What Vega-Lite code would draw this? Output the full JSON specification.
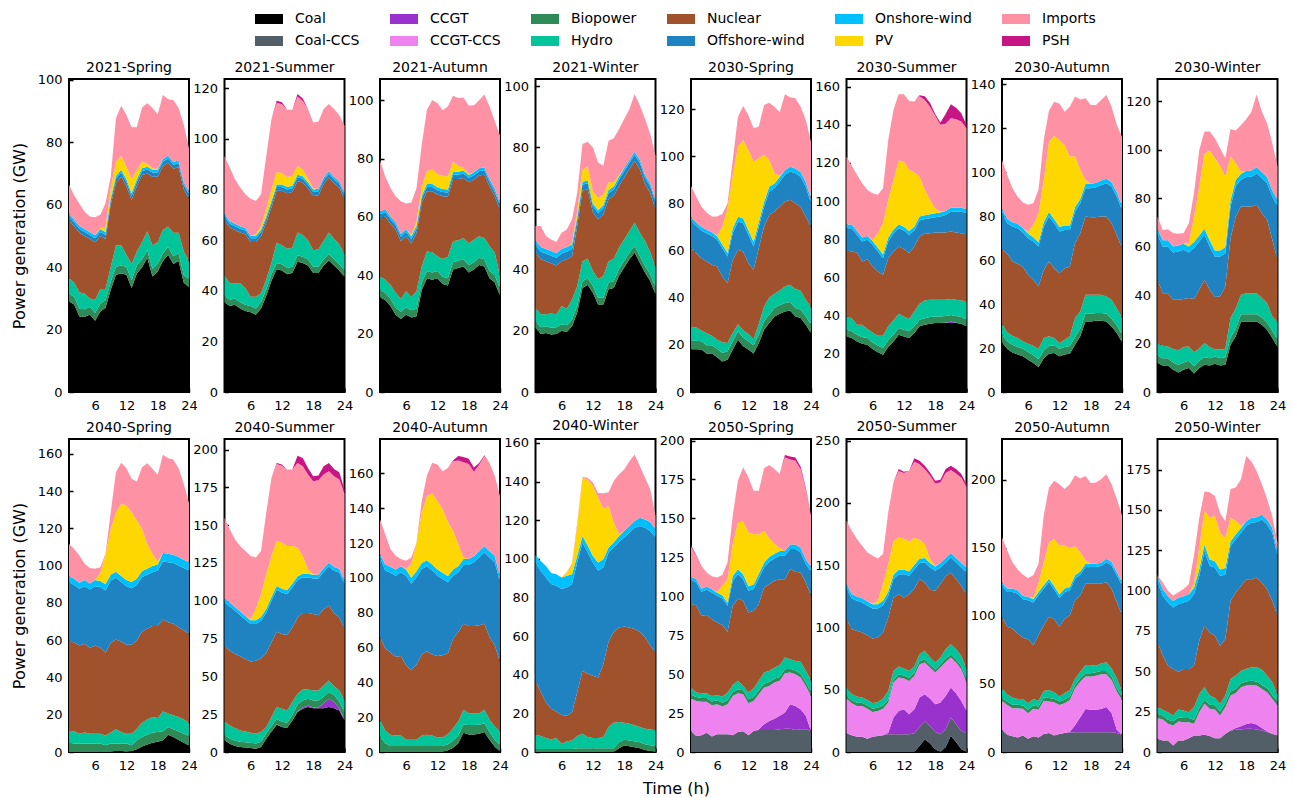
{
  "$schema": "https://vega.github.io/schema/vega-lite/v6.json",
  "padding": {"left": 10, "top": 5, "right": 10, "bottom": 5},
  "background": "white",
  "data": {"values": [
    {"p":"2021-Spring","c":"Coal","h":[1,2,3,4,5,6,7,8,9,10,11,12,13,14,15,16,17,18,19,20,21,22,23,24],"v":[29,28,24.2,24,24.8,22.8,25.8,27,32.8,37.6,38,37.6,33.3,38,40,43,37,38.6,42,44,41,42,35,33.6]},
    {"p":"2021-Spring","c":"Biopower","h":[1,2,3,4,5,6,7,8,9,10,11,12,13,14,15,16,17,18,19,20,21,22,23,24],"v":[2.5,2.5,2.5,2.5,2.5,2.5,2.5,2.5,2.5,2.5,2.5,2.5,2.5,2.5,2.5,2.5,2.5,2.5,2.5,2.5,2.5,2.5,2.5,2.5]},
    {"p":"2021-Spring","c":"Hydro","h":[1,2,3,4,5,6,7,8,9,10,11,12,13,14,15,16,17,18,19,20,21,22,23,24],"v":[5,4.5,5.3,5,2.7,4.2,4.7,3.5,4.7,6.9,6.5,3.9,5.2,4.5,5.5,6,7.5,6.9,7.5,6.5,7.5,6.5,7.5,5.9]},
    {"p":"2021-Spring","c":"Nuclear","h":[1,2,3,4,5,6,7,8,9,10,11,12,13,14,15,16,17,18,19,20,21,22,23,24],"v":[18.5,18,19,18.5,19,18.5,17,16,20,20,22,22,20.5,21,21.5,18.5,22,21,20.5,20.5,20.5,21,20,20]},
    {"p":"2021-Spring","c":"Offshore-wind","h":[1,2,3,4,5,6,7,8,9,10,11,12,13,14,15,16,17,18,19,20,21,22,23,24],"v":[1.3,1.3,1.3,1.3,1.3,1.3,1.3,1.3,1.3,1.3,1.3,1.3,1.3,1.3,1.3,1.3,1.3,1.3,1.3,1.3,1.3,1.3,1.3,1.3]},
    {"p":"2021-Spring","c":"Onshore-wind","h":[1,2,3,4,5,6,7,8,9,10,11,12,13,14,15,16,17,18,19,20,21,22,23,24],"v":[0.9,0.9,0.9,0.9,0.9,0.9,0.9,0.9,0.9,0.9,0.9,0.9,0.9,0.9,0.9,0.9,0.9,0.9,0.9,0.9,0.9,0.9,0.9,0.9]},
    {"p":"2021-Spring","c":"PV","h":[1,2,3,4,5,6,7,8,9,10,11,12,13,14,15,16,17,18,19,20,21,22,23,24],"v":[0,0,0,0,0,0,0.5,1.5,3,4.5,4.5,4,4.5,3,2,1,0.5,0.3,0,0,0,0,0,0]},
    {"p":"2021-Spring","c":"Imports","h":[1,2,3,4,5,6,7,8,9,10,11,12,13,14,15,16,17,18,19,20,21,22,23,24],"v":[9.2,7.8,7.1,5.6,5,5.8,4.1,7.8,3.8,14,16,16.6,16.6,13.6,17.5,19.3,19.3,17.5,20.5,18.1,19.9,16.8,18.4,13.8]},

    {"p":"2021-Summer","c":"Coal","h":[1,2,3,4,5,6,7,8,9,10,11,12,13,14,15,16,17,18,19,20,21,22,23,24],"v":[35.5,34,34.5,33,32,31.5,30.5,33,38,44,48.5,48,46.5,47,51.5,51,50,47,47,50,52,50,48,45.5]},
    {"p":"2021-Summer","c":"Biopower","h":[1,2,3,4,5,6,7,8,9,10,11,12,13,14,15,16,17,18,19,20,21,22,23,24],"v":[2.5,2.5,2.5,2.5,2.5,2.5,2.5,2.5,2.5,2.5,2.5,2.5,2.5,2.5,2.5,2.5,2.5,2.5,2.5,2.5,2.5,2.5,2.5,2.5]},
    {"p":"2021-Summer","c":"Hydro","h":[1,2,3,4,5,6,7,8,9,10,11,12,13,14,15,16,17,18,19,20,21,22,23,24],"v":[8,6.5,6,7.5,6.5,3.6,4.6,3.5,4,4.5,8,7.5,7.6,7.5,9,8.5,7.5,6.5,6.9,7.2,8.5,8.1,7.8,6.4]},
    {"p":"2021-Summer","c":"Nuclear","h":[1,2,3,4,5,6,7,8,9,10,11,12,13,14,15,16,17,18,19,20,21,22,23,24],"v":[22,22,21,20,21.3,21.7,21.7,22.6,22.5,22,20.5,21.5,21.9,22,20.4,20.8,20.4,21.5,21.4,22.5,21.8,21.9,22.5,21.8]},
    {"p":"2021-Summer","c":"Offshore-wind","h":[1,2,3,4,5,6,7,8,9,10,11,12,13,14,15,16,17,18,19,20,21,22,23,24],"v":[1.5,1.5,1.5,1.5,1.5,1.5,1.5,1.5,1.5,1.5,1.5,1.5,1.5,1.5,1.5,1.5,1.5,1.5,1.5,1.5,1.5,1.5,1.5,1.5]},
    {"p":"2021-Summer","c":"Onshore-wind","h":[1,2,3,4,5,6,7,8,9,10,11,12,13,14,15,16,17,18,19,20,21,22,23,24],"v":[1,1,1,1,1,1,1,1,1,1,1,1,1,1,1,1,1,1,1,1,1,1,1,1]},
    {"p":"2021-Summer","c":"PV","h":[1,2,3,4,5,6,7,8,9,10,11,12,13,14,15,16,17,18,19,20,21,22,23,24],"v":[0,0,0,0,0,0,0.5,1.5,3,4.5,5,4.5,4,4,3.5,2.5,1.5,0.5,0,0,0,0,0,0]},
    {"p":"2021-Summer","c":"Imports","h":[1,2,3,4,5,6,7,8,9,10,11,12,13,14,15,16,17,18,19,20,21,22,23,24],"v":[22.8,21.2,17.6,15.3,13.4,14.6,13.2,12.6,20.8,27.8,27.3,27.2,26.5,26,27.4,27.2,27.4,26,26.5,27.1,26.5,26.8,26.1,26.5]},
    {"p":"2021-Summer","c":"PSH","h":[1,2,3,4,5,6,7,8,9,10,11,12,13,14,15,16,17,18,19,20,21,22,23,24],"v":[0,0,0,0,0,0,0,0,0,0,0.8,0.8,0,0,1,1,0,0,0,0,0,0,0,0]},

    {"p":"2021-Autumn","c":"Coal","h":[1,2,3,4,5,6,7,8,9,10,11,12,13,14,15,16,17,18,19,20,21,22,23,24],"v":[32.5,31.5,29.5,26.5,25,26.5,25.5,26,35,39,38.5,39,37,36.5,42,42.5,43,41,42,43.5,43,39,37.5,33]},
    {"p":"2021-Autumn","c":"Biopower","h":[1,2,3,4,5,6,7,8,9,10,11,12,13,14,15,16,17,18,19,20,21,22,23,24],"v":[2.5,2.5,2.5,2.5,2.5,2.5,2.5,2.5,2.5,2.5,2.5,2.5,2.5,2.5,2.5,2.5,2.5,2.5,2.5,2.5,2.5,2.5,2.5,2.5]},
    {"p":"2021-Autumn","c":"Hydro","h":[1,2,3,4,5,6,7,8,9,10,11,12,13,14,15,16,17,18,19,20,21,22,23,24],"v":[4.7,4.5,4.8,5,4.4,5.5,4.6,6,5.5,6.7,6.9,5,6.1,7.3,7.2,7,7.3,7.5,7.7,7.4,7.3,8.5,7.7,4.2]},
    {"p":"2021-Autumn","c":"Nuclear","h":[1,2,3,4,5,6,7,8,9,10,11,12,13,14,15,16,17,18,19,20,21,22,23,24],"v":[19.6,21.7,20.9,21.7,19.8,18.9,18.3,20,21.8,20.6,20.9,21.2,21.5,20.6,21.3,21,20.6,20.9,20.6,20.8,21.7,20.5,19.4,22.8]},
    {"p":"2021-Autumn","c":"Offshore-wind","h":[1,2,3,4,5,6,7,8,9,10,11,12,13,14,15,16,17,18,19,20,21,22,23,24],"v":[1.5,1.5,1.5,1.5,1.5,1.5,1.5,1.5,1.5,1.5,1.5,1.5,1.5,1.5,1.5,1.5,1.5,1.5,1.5,1.5,1.5,1.5,1.5,1.5]},
    {"p":"2021-Autumn","c":"Onshore-wind","h":[1,2,3,4,5,6,7,8,9,10,11,12,13,14,15,16,17,18,19,20,21,22,23,24],"v":[1,1,1,1,1,1,1,1,1,1,1,1,1,1,1,1,1,1,1,1,1,1,1,1]},
    {"p":"2021-Autumn","c":"PV","h":[1,2,3,4,5,6,7,8,9,10,11,12,13,14,15,16,17,18,19,20,21,22,23,24],"v":[0,0,0,0,0,0,0.5,1.5,3,4.5,5,4.5,4.5,4.5,3.5,2,1,0.3,0,0,0,0,0,0]},
    {"p":"2021-Autumn","c":"Imports","h":[1,2,3,4,5,6,7,8,9,10,11,12,13,14,15,16,17,18,19,20,21,22,23,24],"v":[17.6,11.2,9.7,8.9,11.2,8.7,11.1,11.4,14.5,21,23.7,24.4,22.5,24,22.6,23.3,24.1,23.5,23,23.3,25,24.9,23.2,22.9]},

    {"p":"2021-Winter","c":"Coal","h":[1,2,3,4,5,6,7,8,9,10,11,12,13,14,15,16,17,18,19,20,21,22,23,24],"v":[21,19,19.3,18.8,19,20,19.6,21.5,26,34,35,32.5,28.6,28.6,33.6,34,38,40.7,43.4,45.6,42.3,39,36.3,32]},
    {"p":"2021-Winter","c":"Biopower","h":[1,2,3,4,5,6,7,8,9,10,11,12,13,14,15,16,17,18,19,20,21,22,23,24],"v":[2.2,2.2,2.2,2.2,2.2,2.2,2.2,2.2,2.2,2.2,2.2,2.2,2.2,2.2,2.2,2.2,2.2,2.2,2.2,2.2,2.2,2.2,2.2,2.2]},
    {"p":"2021-Winter","c":"Hydro","h":[1,2,3,4,5,6,7,8,9,10,11,12,13,14,15,16,17,18,19,20,21,22,23,24],"v":[4.3,4.2,3.9,4.7,4.2,5.9,5.4,6.6,6.4,6.6,6.4,4.9,6.2,7.1,7,7.4,7,7,7.1,7.6,7.6,8.2,7.1,6.5]},
    {"p":"2021-Winter","c":"Nuclear","h":[1,2,3,4,5,6,7,8,9,10,11,12,13,14,15,16,17,18,19,20,21,22,23,24],"v":[18.1,18,17.4,16.4,16,14.7,16.2,14,19.7,23,22.7,19.1,19.5,20.2,20.3,20.6,20.2,20.3,20.2,20.2,20.8,18.6,19.6,19.1]},
    {"p":"2021-Winter","c":"Offshore-wind","h":[1,2,3,4,5,6,7,8,9,10,11,12,13,14,15,16,17,18,19,20,21,22,23,24],"v":[2.5,2.5,2.5,2.5,2.5,2.5,2.5,2.5,2,2,2,2,2,2,2,2,2,2,2,2,2,2,2,2]},
    {"p":"2021-Winter","c":"Onshore-wind","h":[1,2,3,4,5,6,7,8,9,10,11,12,13,14,15,16,17,18,19,20,21,22,23,24],"v":[1.5,1.5,1.5,1.5,1.5,1.5,1.5,1.5,1,1,1,1,1,1,1,1,1,1,1,1,1,1,1,1]},
    {"p":"2021-Winter","c":"PV","h":[1,2,3,4,5,6,7,8,9,10,11,12,13,14,15,16,17,18,19,20,21,22,23,24],"v":[0,0,0,0,0,0,0,0.5,2,4,4.5,4,4,3.5,2.5,1.5,0.5,0,0,0,0,0,0,0]},
    {"p":"2021-Winter","c":"Imports","h":[1,2,3,4,5,6,7,8,9,10,11,12,13,14,15,16,17,18,19,20,21,22,23,24],"v":[4.7,6.9,4.2,3.8,3.7,5.3,5.8,7.7,5.9,8.3,8.1,14.3,11.6,9.4,13.6,14.3,15.1,16.1,16.7,18.9,17.8,18.3,16.2,14.5]},

    {"p":"2030-Spring","c":"Coal","h":[1,2,3,4,5,6,7,8,9,10,11,12,13,14,15,16,17,18,19,20,21,22,23,24],"v":[18.2,18.2,18,16.3,16.3,14.8,13,13.7,18,22.2,19.4,18,16.3,20.8,26.4,29.3,32.1,33.2,34.2,34.6,32.1,31.4,28.6,25]},
    {"p":"2030-Spring","c":"Biopower","h":[1,2,3,4,5,6,7,8,9,10,11,12,13,14,15,16,17,18,19,20,21,22,23,24],"v":[3.6,3.6,3.6,3.6,3.6,3.6,3.6,3.6,3.6,3.6,3.6,3.6,3.6,3.6,3.6,3.6,3.6,3.6,3.6,3.6,3.6,3.6,3.6,3.6]},
    {"p":"2030-Spring","c":"Hydro","h":[1,2,3,4,5,6,7,8,9,10,11,12,13,14,15,16,17,18,19,20,21,22,23,24],"v":[6,5.6,4.5,5,4,3.8,4.5,3.5,3.5,3,3.2,3,2.5,4.5,6.3,7.2,6,6.3,7,7.3,8,8,7,7.4]},
    {"p":"2030-Spring","c":"Nuclear","h":[1,2,3,4,5,6,7,8,9,10,11,12,13,14,15,16,17,18,19,20,21,22,23,24],"v":[33.3,31.5,30.7,30.5,30.1,31.1,27.9,25.4,31,31.6,33.4,30.1,29.5,32.2,33.9,35.1,34.9,35.6,36,36.1,36.4,35.7,35.3,34.2]},
    {"p":"2030-Spring","c":"Offshore-wind","h":[1,2,3,4,5,6,7,8,9,10,11,12,13,14,15,16,17,18,19,20,21,22,23,24],"v":[11.7,11.6,11.8,12,12.3,11.3,12.1,11.3,11.3,12,12.1,12,9.9,9.1,8.5,9.9,9.9,10.6,11.4,12,12.8,12.7,12.7,9.9]},
    {"p":"2030-Spring","c":"Onshore-wind","h":[1,2,3,4,5,6,7,8,9,10,11,12,13,14,15,16,17,18,19,20,21,22,23,24],"v":[1.5,1.5,1.5,1.5,1.5,1.5,1.5,1.5,2,2,2,2,2,2,2,2,2,2,2,2,2,2,2,2]},
    {"p":"2030-Spring","c":"PV","h":[1,2,3,4,5,6,7,8,9,10,11,12,13,14,15,16,17,18,19,20,21,22,23,24],"v":[0,0,0,0,0,0.4,7.6,19,22.6,29.8,33.3,34,34,27,20,11.4,4.4,0.5,0,0,0,0,0,0]},
    {"p":"2030-Spring","c":"Imports","h":[1,2,3,4,5,6,7,8,9,10,11,12,13,14,15,16,17,18,19,20,21,22,23,24],"v":[13.2,11,8.6,7.3,6.7,8,5.4,2,6.5,12.7,14.4,14.8,14.2,13.5,21.2,24.3,28.2,27,32.2,29.5,29.8,27.7,26.3,24.2]},

    {"p":"2030-Summer","c":"Coal","h":[1,2,3,4,5,6,7,8,9,10,11,12,13,14,15,16,17,18,19,20,21,22,23,24],"v":[29.1,28.3,26.5,25.3,24.8,22.5,20.8,19.5,23.6,26.5,30,29.1,28.3,30.9,34.4,35.2,35.8,36.1,36.1,36.1,36.1,36.1,35.8,34.4]},
    {"p":"2030-Summer","c":"CCGT","h":[1,2,3,4,5,6,7,8,9,10,11,12,13,14,15,16,17,18,19,20,21,22,23,24],"v":[0,0,0,0,0,0,0,0,0,0,0,0,0,0,0,0,0,0,0,0.2,0.7,0.2,0,0]},
    {"p":"2030-Summer","c":"Biopower","h":[1,2,3,4,5,6,7,8,9,10,11,12,13,14,15,16,17,18,19,20,21,22,23,24],"v":[3.5,3.5,3.5,3.5,3.5,3.5,3.5,3.5,3.5,3.5,3.5,3.5,3.5,3.5,3.5,3.5,3.5,3.5,3.5,3.5,3.5,3.5,3.5,3.5]},
    {"p":"2030-Summer","c":"Hydro","h":[1,2,3,4,5,6,7,8,9,10,11,12,13,14,15,16,17,18,19,20,21,22,23,24],"v":[7,6.9,5.2,6.4,4.7,5.2,5.2,6.5,7.3,7.5,7.5,7,6.4,7.8,8.3,9.3,9,8.7,8.7,8.5,8.4,8.5,8.7,9.6]},
    {"p":"2030-Summer","c":"Nuclear","h":[1,2,3,4,5,6,7,8,9,10,11,12,13,14,15,16,17,18,19,20,21,22,23,24],"v":[34.6,34.9,37.9,33.2,36.6,34.6,33.7,31.9,35.7,36.1,35.3,35.3,34.6,34.1,35.3,34.9,34.9,35.3,35.3,35.3,35.4,35.3,35.2,34.9]},
    {"p":"2030-Summer","c":"Offshore-wind","h":[1,2,3,4,5,6,7,8,9,10,11,12,13,14,15,16,17,18,19,20,21,22,23,24],"v":[11.6,12.2,9.3,10.5,10.2,11.3,10.4,8.7,8.8,9.6,9.5,9.7,9.6,8.3,8.4,7.7,7.9,8,8.4,9.2,10.5,11,11.4,11.3]},
    {"p":"2030-Summer","c":"Onshore-wind","h":[1,2,3,4,5,6,7,8,9,10,11,12,13,14,15,16,17,18,19,20,21,22,23,24],"v":[2,2,2,2,2,2,2,2,2,2,2,2,2,2,2,2,2,2,2,2,2,2,2,2]},
    {"p":"2030-Summer","c":"PV","h":[1,2,3,4,5,6,7,8,9,10,11,12,13,14,15,16,17,18,19,20,21,22,23,24],"v":[0,0,0,0,0,0.5,7.6,16.4,19.8,25.9,33.5,34.2,32,28.4,21,13.3,7.6,2.7,0.3,0,0,0,0,0]},
    {"p":"2030-Summer","c":"Imports","h":[1,2,3,4,5,6,7,8,9,10,11,12,13,14,15,16,17,18,19,20,21,22,23,24],"v":[35.6,30.7,29.4,28.5,24.1,24.6,20.1,18.3,31.4,36.7,34.7,35.2,36.1,37.2,42.1,47.1,48.8,48.4,45.7,45.7,46.8,46.3,45.1,42.5]},
    {"p":"2030-Summer","c":"PSH","h":[1,2,3,4,5,6,7,8,9,10,11,12,13,14,15,16,17,18,19,20,21,22,23,24],"v":[0,0,0,0,0,0,0,0,0,0,0,0,0,0,0.5,2,2,1,1.2,5.2,7.4,6,4.3,1.7]},

    {"p":"2030-Autumn","c":"Coal","h":[1,2,3,4,5,6,7,8,9,10,11,12,13,14,15,16,17,18,19,20,21,22,23,24],"v":[22.6,19.5,18,17,16.2,14.7,13.2,11.4,15.4,17.4,17.7,16.2,17,17.4,21.5,25.3,32.1,32.1,32.4,32.4,32.1,29.8,26.8,22.6]},
    {"p":"2030-Autumn","c":"Biopower","h":[1,2,3,4,5,6,7,8,9,10,11,12,13,14,15,16,17,18,19,20,21,22,23,24],"v":[3.5,3.5,3.5,3.5,3.5,3.5,3.5,3.5,3.5,3.5,3.5,3.5,3.5,3.5,3.5,3.5,3.5,3.5,3.5,3.5,3.5,3.5,3.5,3.5]},
    {"p":"2030-Autumn","c":"Hydro","h":[1,2,3,4,5,6,7,8,9,10,11,12,13,14,15,16,17,18,19,20,21,22,23,24],"v":[4.9,4,4.1,4,3.3,3.7,4.3,4.6,5.6,4.4,3.3,2.5,3.3,4.4,8.6,7.8,8.6,8.6,8.3,8.3,7.8,8.6,7.8,7.5]},
    {"p":"2030-Autumn","c":"Nuclear","h":[1,2,3,4,5,6,7,8,9,10,11,12,13,14,15,16,17,18,19,20,21,22,23,24],"v":[33.9,35.8,33.7,33.8,33.8,31.4,30,28.5,31,34,31.8,31.8,32.5,31.8,34.1,35.6,35.6,35.3,35.3,35.6,36.4,34.8,33.3,31.8]},
    {"p":"2030-Autumn","c":"Offshore-wind","h":[1,2,3,4,5,6,7,8,9,10,11,12,13,14,15,16,17,18,19,20,21,22,23,24],"v":[16.4,13.9,15.9,16.2,15.7,16.6,17.4,18.1,19.7,20.5,20.4,19,17.4,16.6,14.3,13.6,12.8,13.1,13.6,14.3,15.1,16.7,17.4,17.4]},
    {"p":"2030-Autumn","c":"Onshore-wind","h":[1,2,3,4,5,6,7,8,9,10,11,12,13,14,15,16,17,18,19,20,21,22,23,24],"v":[2,2,2,2,2,2,2,2,2,2,2,2,2,2,2,2,2,2,2,2,2,2,2,2]},
    {"p":"2030-Autumn","c":"PV","h":[1,2,3,4,5,6,7,8,9,10,11,12,13,14,15,16,17,18,19,20,21,22,23,24],"v":[0,0,0,0,0,1.1,5.6,13.2,19.2,32,37.7,39.6,36.6,31.3,23.3,13.2,1.8,0,0,0,0,0,0,0]},
    {"p":"2030-Autumn","c":"Imports","h":[1,2,3,4,5,6,7,8,9,10,11,12,13,14,15,16,17,18,19,20,21,22,23,24],"v":[22.2,20,15.4,12.3,11.6,12.1,9.8,10.6,18.2,14.1,15.6,16.6,15.1,22.7,27,32,37.1,35.9,35.4,36.6,38.1,34.3,30.6,31.3]},

    {"p":"2030-Winter","c":"Coal","h":[1,2,3,4,5,6,7,8,9,10,11,12,13,14,15,16,17,18,19,20,21,22,23,24],"v":[12,10.9,10.9,9.2,8.1,9.2,9.9,7.6,9.9,11.3,10.9,11.7,10.9,11.3,19.5,23,29.1,29.1,29.1,29.1,27.8,25.7,22.3,18.6]},
    {"p":"2030-Winter","c":"Biopower","h":[1,2,3,4,5,6,7,8,9,10,11,12,13,14,15,16,17,18,19,20,21,22,23,24],"v":[3,3,3,3,3,3,3,3,3,3,3,3,3,3,3,3,3,3,3,3,3,3,3,3]},
    {"p":"2030-Winter","c":"Hydro","h":[1,2,3,4,5,6,7,8,9,10,11,12,13,14,15,16,17,18,19,20,21,22,23,24],"v":[5.2,5.2,4.9,5.5,6.1,6.4,5.9,5.8,5.2,5.9,4.7,2.8,3.6,3.4,8,8.6,8,8.7,8.7,8.7,8,8,5.9,7.5]},
    {"p":"2030-Winter","c":"Nuclear","h":[1,2,3,4,5,6,7,8,9,10,11,12,13,14,15,16,17,18,19,20,21,22,23,24],"v":[26.1,21.7,22,20.4,20.9,19.8,20,22,24.1,26.1,23.6,21.7,22,25.9,33,37.8,36.5,35.8,35.8,36.5,35,34.4,31.6,25.5]},
    {"p":"2030-Winter","c":"Offshore-wind","h":[1,2,3,4,5,6,7,8,9,10,11,12,13,14,15,16,17,18,19,20,21,22,23,24],"v":[18.6,19.3,19.3,19.5,19.9,20.3,18.8,21,19.9,18.6,17.9,16.7,16.4,13.7,13.1,12.7,11,12.1,12.3,13,14.4,15.1,17.9,22]},
    {"p":"2030-Winter","c":"Onshore-wind","h":[1,2,3,4,5,6,7,8,9,10,11,12,13,14,15,16,17,18,19,20,21,22,23,24],"v":[2.5,2.5,2.5,2.5,2.5,2.5,2.5,2.5,2.5,2.5,2.5,2.5,2.5,2.5,2.5,2.5,2.5,2.5,2.5,2.5,2.5,2.5,2.5,2.5]},
    {"p":"2030-Winter","c":"PV","h":[1,2,3,4,5,6,7,8,9,10,11,12,13,14,15,16,17,18,19,20,21,22,23,24],"v":[0,0,0,0,0,0,1.3,10.5,20.2,30.9,37.1,38.1,34.9,29.1,18.1,6.8,0.9,0,0,0,0,0,0,0]},
    {"p":"2030-Winter","c":"Imports","h":[1,2,3,4,5,6,7,8,9,10,11,12,13,14,15,16,17,18,19,20,21,22,23,24],"v":[5,4.3,4.6,5.5,4.8,4.4,8.3,9.7,15.1,9.2,7.8,8.2,7.3,7.6,11.4,13.5,19.2,21.4,24.3,30,25,22.2,19.5,14]},

    {"p":"2040-Spring","c":"Coal","h":[1,2,3,4,5,6,7,8,9,10,11,12,13,14,15,16,17,18,19,20,21,22,23,24],"v":[0,0,0,0,0,0,0,0,0,0.5,0.5,0,0.5,1.5,3,4,5,5.5,6.3,9.3,8,6.5,5,3.5]},
    {"p":"2040-Spring","c":"Biopower","h":[1,2,3,4,5,6,7,8,9,10,11,12,13,14,15,16,17,18,19,20,21,22,23,24],"v":[5,4.5,4.5,4.5,4.5,4.5,4.5,3.6,4.5,4,4,4.5,3.1,4.8,5,5.3,5.4,5.2,4.8,4.1,4.2,4.6,4.8,5.1]},
    {"p":"2040-Spring","c":"Hydro","h":[1,2,3,4,5,6,7,8,9,10,11,12,13,14,15,16,17,18,19,20,21,22,23,24],"v":[6.3,6.6,5.3,5.9,5.3,5.3,5.3,5.3,5.9,7.7,6.2,5.3,6.2,6.2,7.7,8.2,8.4,7.5,10.7,7.2,7.5,7.7,7.7,7.1]},
    {"p":"2040-Spring","c":"Nuclear","h":[1,2,3,4,5,6,7,8,9,10,11,12,13,14,15,16,17,18,19,20,21,22,23,24],"v":[48.6,47.5,47.4,47.7,46.2,47.4,46.2,44.4,48.2,48.2,48.6,47.8,47.8,47.4,49,48.6,48.8,49.4,49.3,49.1,49.1,48.2,47.8,47.8]},
    {"p":"2040-Spring","c":"Offshore-wind","h":[1,2,3,4,5,6,7,8,9,10,11,12,13,14,15,16,17,18,19,20,21,22,23,24],"v":[31.3,31.1,30.4,30.9,31.2,31.8,32.5,33.4,33.4,33.1,31.9,31.4,30.3,29.8,29.2,29,28.9,29.8,31.2,32.2,32.6,33.1,33.4,33.9]},
    {"p":"2040-Spring","c":"Onshore-wind","h":[1,2,3,4,5,6,7,8,9,10,11,12,13,14,15,16,17,18,19,20,21,22,23,24],"v":[3.3,3.3,3.3,3.3,3.3,3.3,3.3,3.3,3.3,3.3,3.3,3.3,3.3,3.3,3.3,3.3,3.3,3.3,4.5,4.5,4.5,4.5,4.5,4.5]},
    {"p":"2040-Spring","c":"PV","h":[1,2,3,4,5,6,7,8,9,10,11,12,13,14,15,16,17,18,19,20,21,22,23,24],"v":[0,0,0,0,0,0.2,4.2,15.9,24.5,31.9,38.7,40,37.5,31.2,22.6,13.3,6.6,1.6,0,0,0,0,0,0]},
    {"p":"2040-Spring","c":"Imports","h":[1,2,3,4,5,6,7,8,9,10,11,12,13,14,15,16,17,18,19,20,21,22,23,24],"v":[17.2,16,14.6,8.7,8.2,5.8,3.2,0.5,8.9,21.5,22,20,17.9,21,33.1,43.3,45.6,46.4,52.7,51.3,51.1,47.7,40.7,31.8]},

    {"p":"2040-Summer","c":"Coal","h":[1,2,3,4,5,6,7,8,9,10,11,12,13,14,15,16,17,18,19,20,21,22,23,24],"v":[7.7,5.5,4,3.3,2.9,2.6,2.2,3.3,8.8,13.6,18,16.5,15.8,20.9,26.4,28.6,29.7,29,29,29,29.7,29,27.5,20.9]},
    {"p":"2040-Summer","c":"CCGT","h":[1,2,3,4,5,6,7,8,9,10,11,12,13,14,15,16,17,18,19,20,21,22,23,24],"v":[0,0,0,0,0,0,0,0,0,0,0.3,0,0,0,0.5,1,1,0.5,0.5,3,5.5,4,1.5,0.5]},
    {"p":"2040-Summer","c":"Biopower","h":[1,2,3,4,5,6,7,8,9,10,11,12,13,14,15,16,17,18,19,20,21,22,23,24],"v":[3.5,3.5,3.5,3.5,3.5,3.5,3.5,3.5,3.5,3.5,3.5,3.5,3.5,3.5,4.5,4.5,4.5,4.5,4.5,4.5,4.5,4.5,4.5,4.5]},
    {"p":"2040-Summer","c":"Hydro","h":[1,2,3,4,5,6,7,8,9,10,11,12,13,14,15,16,17,18,19,20,21,22,23,24],"v":[9,8.6,8.3,7.5,7.2,6.6,6.4,6.4,4.2,6,7.9,8.6,8.2,8.6,7.1,7.2,6.1,6.7,6.7,7.5,7.6,6,7.2,8.2]},
    {"p":"2040-Summer","c":"Nuclear","h":[1,2,3,4,5,6,7,8,9,10,11,12,13,14,15,16,17,18,19,20,21,22,23,24],"v":[49.7,49.4,49,49,47.9,47.1,48.3,48.8,49,49.4,49.9,49.4,49.9,49.4,50.5,50.6,50.6,50.5,49.8,50.5,49.4,48.4,48.3,47.2]},
    {"p":"2040-Summer","c":"Offshore-wind","h":[1,2,3,4,5,6,7,8,9,10,11,12,13,14,15,16,17,18,19,20,21,22,23,24],"v":[29,29.3,28.6,27.2,26,24.8,24.2,24.8,26.8,27.5,27.7,27.5,27,26.4,24.8,23.5,23.5,23.5,24.2,24.6,25.9,27.9,29.7,29.7]},
    {"p":"2040-Summer","c":"Onshore-wind","h":[1,2,3,4,5,6,7,8,9,10,11,12,13,14,15,16,17,18,19,20,21,22,23,24],"v":[2.5,2.5,2.5,2.5,2.5,2.5,2.5,2.5,2.5,2.5,2.5,2.5,2.5,2.5,2.5,2.5,2.5,2.5,2.5,2.5,2.5,2.5,2.5,2.5]},
    {"p":"2040-Summer","c":"PV","h":[1,2,3,4,5,6,7,8,9,10,11,12,13,14,15,16,17,18,19,20,21,22,23,24],"v":[0,0,0,0,0,0.8,7.4,15.1,22.8,27.2,29.8,30.5,29.4,25,18.9,11.8,3,0.3,0,0,0,0,0,0]},
    {"p":"2040-Summer","c":"Imports","h":[1,2,3,4,5,6,7,8,9,10,11,12,13,14,15,16,17,18,19,20,21,22,23,24],"v":[53.5,48.5,44.8,43.3,43,41.8,34.1,28.6,40.6,51.6,50.8,50.8,50.5,50.5,56,59.3,62.6,61.6,62.6,61.9,60.6,60.1,59,57.5]},
    {"p":"2040-Summer","c":"PSH","h":[1,2,3,4,5,6,7,8,9,10,11,12,13,14,15,16,17,18,19,20,21,22,23,24],"v":[0,0,0,0,0,0,0,0,0,0,0.8,0.8,0,0,4.8,5.5,4.4,3.3,3.1,5.5,5.5,4.8,4.8,2.6]},

    {"p":"2040-Autumn","c":"Coal","h":[1,2,3,4,5,6,7,8,9,10,11,12,13,14,15,16,17,18,19,20,21,22,23,24],"v":[0,0,0,0,0,0,0,0,0,0,0,0,0,1,2.5,5,11,10,10,10.5,11.5,7,3,0.5]},
    {"p":"2040-Autumn","c":"Biopower","h":[1,2,3,4,5,6,7,8,9,10,11,12,13,14,15,16,17,18,19,20,21,22,23,24],"v":[9,5,3.5,3.5,3.5,3.5,3.5,3.5,3.5,3.5,3.5,3.5,3.5,3.5,4,4.5,4.8,5.5,5.5,5.2,5,4.5,4,3.2]},
    {"p":"2040-Autumn","c":"Hydro","h":[1,2,3,4,5,6,7,8,9,10,11,12,13,14,15,16,17,18,19,20,21,22,23,24],"v":[9.5,7.2,6.4,6,6,3.5,3.5,3.5,6,6.4,6,4.9,4.9,5.8,7.2,8,8.4,6.8,6.8,6.6,7.7,7,7.7,8.1]},
    {"p":"2040-Autumn","c":"Nuclear","h":[1,2,3,4,5,6,7,8,9,10,11,12,13,14,15,16,17,18,19,20,21,22,23,24],"v":[47.6,47.2,47.2,45.2,45.7,42.9,40,43.3,46.5,48,46.5,46.8,47.2,46.3,51.4,51.5,49.5,50.1,50.1,50.5,49.5,47.6,46.6,40]},
    {"p":"2040-Autumn","c":"Offshore-wind","h":[1,2,3,4,5,6,7,8,9,10,11,12,13,14,15,16,17,18,19,20,21,22,23,24],"v":[45.7,44.8,45.8,46.6,48,51.4,49.6,50.1,49.1,48.8,48.2,46.1,43.8,40.9,36.2,34.2,33.7,35,36.6,39,41,45.7,47.7,45.7]},
    {"p":"2040-Autumn","c":"Onshore-wind","h":[1,2,3,4,5,6,7,8,9,10,11,12,13,14,15,16,17,18,19,20,21,22,23,24],"v":[2,3.5,3.5,3.5,3.5,3.5,3.5,3.5,3.5,3.5,3.5,3.5,3.5,3.5,3.5,3.5,3.5,3.5,3.5,3.5,3.5,3.5,3.5,3.5]},
    {"p":"2040-Autumn","c":"PV","h":[1,2,3,4,5,6,7,8,9,10,11,12,13,14,15,16,17,18,19,20,21,22,23,24],"v":[0,0,0,0,0,0.3,7.9,16.1,28.9,36.8,40.9,39.4,36.5,31.2,22.2,12.7,0.9,0,0,0,0,0,0,0]},
    {"p":"2040-Autumn","c":"Imports","h":[1,2,3,4,5,6,7,8,9,10,11,12,13,14,15,16,17,18,19,20,21,22,23,24],"v":[19.9,17.4,10.2,8,4.2,4.8,3.8,0.4,6.7,11.9,17.5,20.9,21.9,31,40,48.1,54.7,54.6,48.5,49.7,51.8,50.7,46,46]},
    {"p":"2040-Autumn","c":"PSH","h":[1,2,3,4,5,6,7,8,9,10,11,12,13,14,15,16,17,18,19,20,21,22,23,24],"v":[0,0,0,0,0,0,0,0,0,0,0,0,0,0,0.5,2.5,3,3,2.5,1,0.5,0,0,0]},

    {"p":"2040-Winter","c":"Coal","h":[1,2,3,4,5,6,7,8,9,10,11,12,13,14,15,16,17,18,19,20,21,22,23,24],"v":[0,0,0,0,0,0,0,0,0,0,0,0,0,0,0,0,2,3.4,3,2.5,2,1,0.5,0]},
    {"p":"2040-Winter","c":"Biopower","h":[1,2,3,4,5,6,7,8,9,10,11,12,13,14,15,16,17,18,19,20,21,22,23,24],"v":[1.5,1.5,1.5,1.5,1.5,1.5,1.5,1.5,2,2,2,2,2,2,2,2,3,3,3,3,3,3,3,3]},
    {"p":"2040-Winter","c":"Hydro","h":[1,2,3,4,5,6,7,8,9,10,11,12,13,14,15,16,17,18,19,20,21,22,23,24],"v":[7.4,6.8,5.7,5,5.7,2.8,4,4.5,6.3,7.5,5.7,5.2,5.2,5.7,10.9,13.1,10.5,8.7,8.6,8.3,7.9,8,8.2,8.2]},
    {"p":"2040-Winter","c":"Nuclear","h":[1,2,3,4,5,6,7,8,9,10,11,12,13,14,15,16,17,18,19,20,21,22,23,24],"v":[28.1,22.7,18.6,15.9,13.8,14.9,13.3,14.5,22.7,32.5,32.8,32.3,31.3,37.9,44.1,46.9,49,49.9,49.9,49.9,49.4,47.4,43.3,40.4]},
    {"p":"2040-Winter","c":"Offshore-wind","h":[1,2,3,4,5,6,7,8,9,10,11,12,13,14,15,16,17,18,19,20,21,22,23,24],"v":[61.1,62.8,64.5,64.5,65,65.1,66.4,66.4,67.1,66.4,62.7,58.6,55.3,49.9,46.2,43.8,44.2,46,49,52.4,54.7,56.7,59.4,59.4]},
    {"p":"2040-Winter","c":"Onshore-wind","h":[1,2,3,4,5,6,7,8,9,10,11,12,13,14,15,16,17,18,19,20,21,22,23,24],"v":[3.7,5.1,6,5.7,6,6,6,5.1,3.3,3.4,3.5,3.3,4.3,4.3,2.6,2.6,3.1,3.4,3.5,3.5,4.3,4.3,4.6,4.3]},
    {"p":"2040-Winter","c":"PV","h":[1,2,3,4,5,6,7,8,9,10,11,12,13,14,15,16,17,18,19,20,21,22,23,24],"v":[0,0,0,0,0,0.2,1.7,5.2,15.6,30.1,34.4,36.2,33.5,26.1,21.5,10.3,0.9,0,0,0,0,0,0,0]},
    {"p":"2040-Winter","c":"Imports","h":[1,2,3,4,5,6,7,8,9,10,11,12,13,14,15,16,17,18,19,20,21,22,23,24],"v":[0,0,0,0,0,0,0.3,0.5,1.7,0.4,0.8,1.8,2.5,8,7.2,21.5,31,31.8,33.5,34.4,26.7,21.5,16.9,6.9]},

    {"p":"2050-Spring","c":"Coal-CCS","h":[1,2,3,4,5,6,7,8,9,10,11,12,13,14,15,16,17,18,19,20,21,22,23,24],"v":[13.5,10.3,10.7,12.4,9.9,11.4,11.4,11.4,10.7,12.9,13.3,10.7,13.5,14.1,14.1,14.1,14.1,14.6,15,15,14.1,14.6,14.6,13.5]},
    {"p":"2050-Spring","c":"CCGT","h":[1,2,3,4,5,6,7,8,9,10,11,12,13,14,15,16,17,18,19,20,21,22,23,24],"v":[0,0,0,0,0,0,0,0,0,0,0,0,0,0.5,3.7,5.8,7.3,8.6,10.3,15.7,15.5,12.8,8.6,0]},
    {"p":"2050-Spring","c":"CCGT-CCS","h":[1,2,3,4,5,6,7,8,9,10,11,12,13,14,15,16,17,18,19,20,21,22,23,24],"v":[20.8,22.5,21.5,19.8,20.1,19.3,17.8,19.3,25.3,24.8,23.8,20.6,19.3,22.5,23.6,22.5,23.2,22.5,25.3,20.3,20.3,20.4,19.2,22.5]},
    {"p":"2050-Spring","c":"Biopower","h":[1,2,3,4,5,6,7,8,9,10,11,12,13,14,15,16,17,18,19,20,21,22,23,24],"v":[2.5,2.5,2.5,2.5,2.5,2.5,2.5,2.5,2.5,2.5,2.5,2.5,2.5,2.5,2.5,2.5,2.5,2.5,2.5,2.5,2.5,2.5,2.5,2.5]},
    {"p":"2050-Spring","c":"Hydro","h":[1,2,3,4,5,6,7,8,9,10,11,12,13,14,15,16,17,18,19,20,21,22,23,24],"v":[4.6,2.9,3,3,3.5,3.2,3.9,4.8,4.5,5.5,2.8,4.4,5.4,6.1,7.1,7.2,7.1,7.5,7.6,6.1,6.1,7.6,7.2,7.2]},
    {"p":"2050-Spring","c":"Nuclear","h":[1,2,3,4,5,6,7,8,9,10,11,12,13,14,15,16,17,18,19,20,21,22,23,24],"v":[53.6,56.1,49.8,50.2,49.3,46.8,45.9,39.2,50.9,52.9,54.7,51.4,50,49.3,54.7,55.7,55.8,55.3,50.3,57.9,57.3,57.4,56.8,54.6]},
    {"p":"2050-Spring","c":"Offshore-wind","h":[1,2,3,4,5,6,7,8,9,10,11,12,13,14,15,16,17,18,19,20,21,22,23,24],"v":[15.6,14.6,15.4,16.3,17.2,17.1,17.1,16.7,16.1,15.7,13.9,13.9,13.9,16.5,12.8,14.4,14.3,15,15,12.8,14.5,12.9,11.8,15.5]},
    {"p":"2050-Spring","c":"Onshore-wind","h":[1,2,3,4,5,6,7,8,9,10,11,12,13,14,15,16,17,18,19,20,21,22,23,24],"v":[2,2,2,2,2,2,2,2,3,3,3,3,3,3,3,3,3,3,3,3,3,3,3,3]},
    {"p":"2050-Spring","c":"PV","h":[1,2,3,4,5,6,7,8,9,10,11,12,13,14,15,16,17,18,19,20,21,22,23,24],"v":[0,0,0,0,0,0.5,6.2,15.1,20.5,30.2,33.9,34.6,32.4,25.1,20.6,12,6.2,1.8,0,0,0,0,0,0]},
    {"p":"2050-Spring","c":"Imports","h":[1,2,3,4,5,6,7,8,9,10,11,12,13,14,15,16,17,18,19,20,21,22,23,24],"v":[19.4,15.1,14.7,9.1,8.3,9.3,6.8,10.8,18.3,26.8,35,35.3,27.8,28.2,40.1,47.1,48.3,47.8,60.3,54.5,53.8,50.6,45.2,33]},
    {"p":"2050-Spring","c":"PSH","h":[1,2,3,4,5,6,7,8,9,10,11,12,13,14,15,16,17,18,19,20,21,22,23,24],"v":[1,0.5,0,0,0,0,0,0,0,0,0,0,0,0,0,0,0,0,1.5,2,2,1.5,1,0.5]},

    {"p":"2050-Summer","c":"Coal","h":[1,2,3,4,5,6,7,8,9,10,11,12,13,14,15,16,17,18,19,20,21,22,23,24],"v":[0,0,0,0,0,0,0,0,0,0,0,0,0,0,5,10,7,2,0,4,13,8,2.5,0]},
    {"p":"2050-Summer","c":"Coal-CCS","h":[1,2,3,4,5,6,7,8,9,10,11,12,13,14,15,16,17,18,19,20,21,22,23,24],"v":[15,13.4,12.3,12.3,10.7,12.3,12.9,13.4,14.2,14.2,14.2,14.2,14.2,15,15,14.5,14,14,14.2,14.2,14.6,14.2,14.4,15]},
    {"p":"2050-Summer","c":"CCGT","h":[1,2,3,4,5,6,7,8,9,10,11,12,13,14,15,16,17,18,19,20,21,22,23,24],"v":[0,0,0,0,0,0,0,0,1.3,13.4,18.8,20.1,16.1,19.3,23.7,21.9,21.9,22.3,25.5,26.8,24.1,25,24.1,18]},
    {"p":"2050-Summer","c":"CCGT-CCS","h":[1,2,3,4,5,6,7,8,9,10,11,12,13,14,15,16,17,18,19,20,21,22,23,24],"v":[27.9,25.7,24.7,24.7,24.1,19.9,20.1,21.4,24.2,28.1,26.8,24.7,26.8,26.8,26.8,25.4,24.9,25.5,28.1,27.3,24.1,24.6,25.5,22.7]},
    {"p":"2050-Summer","c":"Biopower","h":[1,2,3,4,5,6,7,8,9,10,11,12,13,14,15,16,17,18,19,20,21,22,23,24],"v":[2.5,2.5,2.5,2.5,2.5,2.5,2.5,2.5,2.5,2.5,2.5,2.5,2.5,2.5,2.5,2.5,2.5,2.5,2.5,2.5,2.5,2.5,2.5,2.5]},
    {"p":"2050-Summer","c":"Hydro","h":[1,2,3,4,5,6,7,8,9,10,11,12,13,14,15,16,17,18,19,20,21,22,23,24],"v":[6.3,4.8,5,4.2,4.5,4.4,4.7,5.6,6.8,6.9,6.3,5.5,5.5,5,5.5,6.9,5.5,5.5,5.5,7.7,8.2,8.2,8.2,8.3]},
    {"p":"2050-Summer","c":"Nuclear","h":[1,2,3,4,5,6,7,8,9,10,11,12,13,14,15,16,17,18,19,20,21,22,23,24],"v":[54.9,52.2,52.8,52.2,52,52,51.7,53,59,59,58.1,57.1,61.6,62.4,60.3,54.9,54.4,57.6,59,58.4,57.7,56.3,56.2,60.2]},
    {"p":"2050-Summer","c":"Offshore-wind","h":[1,2,3,4,5,6,7,8,9,10,11,12,13,14,15,16,17,18,19,20,21,22,23,24],"v":[24.7,24.7,24.1,24.1,23.6,24.1,23.3,22,17.4,14.7,16.1,18.7,14.8,15.8,12.9,16.1,18,16.1,13.4,11.3,12,13.4,14.8,17.5]},
    {"p":"2050-Summer","c":"Onshore-wind","h":[1,2,3,4,5,6,7,8,9,10,11,12,13,14,15,16,17,18,19,20,21,22,23,24],"v":[3.5,3.5,3.5,3.5,3.5,3.5,3.5,3.5,3.5,3.5,3.5,3.5,3.5,3.5,3.5,3.5,3.5,3.5,3.5,3.5,3.5,3.5,3.5,3.5]},
    {"p":"2050-Summer","c":"PV","h":[1,2,3,4,5,6,7,8,9,10,11,12,13,14,15,16,17,18,19,20,21,22,23,24],"v":[0,0,0,0,0,0.5,2.7,13.4,22,27.3,26,25.2,23.8,22,15.2,11.2,3.2,0.3,0,0,0,0,0,0]},
    {"p":"2050-Summer","c":"Imports","h":[1,2,3,4,5,6,7,8,9,10,11,12,13,14,15,16,17,18,19,20,21,22,23,24],"v":[50.9,50.9,46.1,42.1,39.3,38.4,34,24.1,41.5,46.9,53.4,52.6,57.1,60.7,60.6,60.1,67.1,66.2,64.6,68.3,66.7,68,68.5,65.3]},
    {"p":"2050-Summer","c":"PSH","h":[1,2,3,4,5,6,7,8,9,10,11,12,13,14,15,16,17,18,19,20,21,22,23,24],"v":[0,0,0,0,0,0,0,0,0,0,1.5,1,0,2.8,2.9,2.9,2.5,2.3,2.3,3.2,3.5,3.5,3,2.2]},

    {"p":"2050-Autumn","c":"Coal-CCS","h":[1,2,3,4,5,6,7,8,9,10,11,12,13,14,15,16,17,18,19,20,21,22,23,24],"v":[16.3,12.7,11.5,10.7,12.2,9.8,11.5,10.7,13.2,13.9,12.2,13.2,13.9,14.4,14.6,14.6,14.6,14.6,14.6,14.6,14.6,14.6,13.9,12.7]},
    {"p":"2050-Autumn","c":"CCGT","h":[1,2,3,4,5,6,7,8,9,10,11,12,13,14,15,16,17,18,19,20,21,22,23,24],"v":[0,0,0,0,0,0,0,0,0,0,0,0,0,0.5,5,11,17,16.5,16.5,17,18.5,14,2.5,0]},
    {"p":"2050-Autumn","c":"CCGT-CCS","h":[1,2,3,4,5,6,7,8,9,10,11,12,13,14,15,16,17,18,19,20,21,22,23,24],"v":[21.3,21.9,20.7,21.5,19.5,18.7,20.2,20.3,24.4,23.2,24.4,21.4,22,23.4,27.2,26.1,23.8,24.3,25,25.5,24,24.3,28,25.6]},
    {"p":"2050-Autumn","c":"Biopower","h":[1,2,3,4,5,6,7,8,9,10,11,12,13,14,15,16,17,18,19,20,21,22,23,24],"v":[2.5,2.5,2.5,2.5,2.5,2.5,2.5,2.5,2.5,2.5,2.5,2.5,2.5,2.5,2.5,2.5,2.5,2.5,2.5,2.5,2.5,2.5,2.5,2.5]},
    {"p":"2050-Autumn","c":"Hydro","h":[1,2,3,4,5,6,7,8,9,10,11,12,13,14,15,16,17,18,19,20,21,22,23,24],"v":[6.7,4.9,5.3,4.3,4.8,4.9,4.8,4.1,4.8,6,4.8,3.6,4.8,4.8,4.8,4.8,6,6,4.8,5.5,6.3,6.1,7.2,3.6]},
    {"p":"2050-Autumn","c":"Nuclear","h":[1,2,3,4,5,6,7,8,9,10,11,12,13,14,15,16,17,18,19,20,21,22,23,24],"v":[52.5,50,50.7,48.1,44.9,47,39.5,48.3,48.3,53.7,53.7,51.3,54.8,54.9,57.4,56.1,59.8,59.8,60.3,58.6,59,58.5,56.1,56.1]},
    {"p":"2050-Autumn","c":"Offshore-wind","h":[1,2,3,4,5,6,7,8,9,10,11,12,13,14,15,16,17,18,19,20,21,22,23,24],"v":[22.7,25.6,26.9,29.2,28.3,28.6,31.3,29.2,26.8,25.6,21.9,21.2,19.6,18.3,15.8,15.1,12.2,12.2,12.2,12.9,14.6,17.1,19.6,21.9]},
    {"p":"2050-Autumn","c":"Onshore-wind","h":[1,2,3,4,5,6,7,8,9,10,11,12,13,14,15,16,17,18,19,20,21,22,23,24],"v":[2.5,2.5,2.5,2.5,2.5,2.5,2.5,2.5,2.5,2.5,2.5,2.5,2.5,2.5,2.5,2.5,2.5,2.5,2.5,2.5,2.5,2.5,2.5,2.5]},
    {"p":"2050-Autumn","c":"PV","h":[1,2,3,4,5,6,7,8,9,10,11,12,13,14,15,16,17,18,19,20,21,22,23,24],"v":[0,0,0,0,0,0,1,7,17,26.7,34.6,36,31.6,28.5,21.4,14.1,2.3,0,0,0,0,0,0,0]},
    {"p":"2050-Autumn","c":"Imports","h":[1,2,3,4,5,6,7,8,9,10,11,12,13,14,15,16,17,18,19,20,21,22,23,24],"v":[33.3,27.9,19.4,15.3,15.5,13.8,16.5,13.7,34.2,40.3,42.7,45.1,41.5,47,52.2,54.2,62.2,59.2,59.6,61.4,62.1,57.2,53.6,49.2]},

    {"p":"2050-Winter","c":"Coal-CCS","h":[1,2,3,4,5,6,7,8,9,10,11,12,13,14,15,16,17,18,19,20,21,22,23,24],"v":[8.2,7.2,7.2,4.1,7.2,7.2,8.6,10.3,10.3,10.7,9.9,8.6,8.6,11.3,13.4,13.8,14,14.4,14.4,14,13.4,12.4,11.3,10.3]},
    {"p":"2050-Winter","c":"CCGT","h":[1,2,3,4,5,6,7,8,9,10,11,12,13,14,15,16,17,18,19,20,21,22,23,24],"v":[0,0,0,0,0,0,0,0,0,0,0,0,0,0,0,1,2,3,3.5,3,1.5,0.5,0,0]},
    {"p":"2050-Winter","c":"CCGT-CCS","h":[1,2,3,4,5,6,7,8,9,10,11,12,13,14,15,16,17,18,19,20,21,22,23,24],"v":[12.8,13,10.3,12.4,11.7,11.3,9.9,7.2,14.4,19.2,16.9,17.8,14,16.5,21.6,21.8,24.1,23.8,23.7,24.2,24.2,24.2,21.6,18.5]},
    {"p":"2050-Winter","c":"Biopower","h":[1,2,3,4,5,6,7,8,9,10,11,12,13,14,15,16,17,18,19,20,21,22,23,24],"v":[2.5,2.5,2.5,2.5,2.5,2.5,2.5,2.5,2.5,2.5,2.5,2.5,2.5,2.5,2.5,2.5,2.5,2.5,2.5,2.5,2.5,2.5,2.5,2.5]},
    {"p":"2050-Winter","c":"Hydro","h":[1,2,3,4,5,6,7,8,9,10,11,12,13,14,15,16,17,18,19,20,21,22,23,24],"v":[4.3,3.5,4.7,3.6,5,4.7,3.7,7.8,8.8,7.7,5.7,4.5,4.8,4.7,7.8,8.3,7.8,7.8,8.4,8.8,9.5,7.8,7.8,4]},
    {"p":"2050-Winter","c":"Nuclear","h":[1,2,3,4,5,6,7,8,9,10,11,12,13,14,15,16,17,18,19,20,21,22,23,24],"v":[40.1,33.9,28.8,28.9,23.4,25.8,26.8,25.7,33,38.1,39.1,38.7,36,35,48.4,51.4,52.5,55.6,54.6,55.6,53.9,53.5,50.5,49.1]},
    {"p":"2050-Winter","c":"Offshore-wind","h":[1,2,3,4,5,6,7,8,9,10,11,12,13,14,15,16,17,18,19,20,21,22,23,24],"v":[37.1,36.7,39.1,38.1,41.8,41.1,42.2,44.3,40.1,46.4,41.2,42.2,43.2,40.1,34,33,33,32.9,35,34.4,39.1,40.1,42.2,37.1]},
    {"p":"2050-Winter","c":"Onshore-wind","h":[1,2,3,4,5,6,7,8,9,10,11,12,13,14,15,16,17,18,19,20,21,22,23,24],"v":[4,4,4,4,4,4,4,4,4,4,4,4,4,4,3,3,3,3,3,3,3,3,3,3]},
    {"p":"2050-Winter","c":"PV","h":[1,2,3,4,5,6,7,8,9,10,11,12,13,14,15,16,17,18,19,20,21,22,23,24],"v":[0,0,0,0,0,0,0,3.2,13.5,20.7,25.9,27.9,22.8,18.7,14.5,8.4,1.1,0,0,0,0,0,0,0]},
    {"p":"2050-Winter","c":"Imports","h":[1,2,3,4,5,6,7,8,9,10,11,12,13,14,15,16,17,18,19,20,21,22,23,24],"v":[0.5,4.2,3.4,3.4,3.4,4.4,6.3,17,18.4,12.2,15.8,12.3,12.1,10.2,17.8,20.8,29,40.5,34.9,28.5,18.9,13,7.1,5.5]}
  ]},
  "transform": [
    {"flatten": ["h", "v"]},
    {"calculate": "indexof(['Coal','Coal-CCS','CCGT','CCGT-CCS','Biopower','Hydro','Nuclear','Offshore-wind','Onshore-wind','PV','Imports','PSH'], datum.c)", "as": "o"}
  ],
  "columns": 8,
  "spacing": {"row": 47, "column": 35.5},
  "bounds": "flush",
  "title": {"text": "Time (h)", "orient": "bottom", "anchor": "middle", "frame": "bounds", "fontSize": 16, "fontWeight": "normal", "font": "DejaVu Sans", "color": "black", "offset": 8, "dx": 28},
  "concat": [
    {"width": 120, "height": 313, "title": {"text": "2021-Spring", "dy": 5}, "transform": [{"filter": "datum.p == '2021-Spring'"}], "mark": {"type": "area", "interpolate": "linear"},
     "encoding": {"x": {"field": "h", "type": "quantitative", "scale": {"domain": [1, 24], "nice": false}, "axis": {"values": [6, 12, 18, 24], "title": null}},
      "y": {"field": "v", "type": "quantitative", "stack": "zero", "scale": {"domain": [0, 100.3], "nice": false}, "axis": {"values": [0, 20, 40, 60, 80, 100], "title": "Power generation (GW)"}},
      "color": {"field": "c", "type": "nominal", "scale": {"domain": ["Coal","Coal-CCS","CCGT","CCGT-CCS","Biopower","Hydro","Nuclear","Offshore-wind","Onshore-wind","PV","Imports","PSH"], "range": ["#000000","#525f69","#9932cc","#ee82ee","#2e8b57","#00c49a","#a0522d","#1f82c1","#00bfff","#ffd700","#ff91a4","#c71585"]}, "legend": {"title": null, "values": ["Coal","CCGT","Biopower","Nuclear","Onshore-wind","Imports","Coal-CCS","CCGT-CCS","Hydro","Offshore-wind","PV","PSH"]}},
      "order": {"field": "o", "type": "quantitative", "sort": "ascending"}}},
    {"width": 120, "height": 313, "title": "2021-Summer", "transform": [{"filter": "datum.p == '2021-Summer'"}], "mark": {"type": "area", "interpolate": "linear"},
     "encoding": {"x": {"field": "h", "type": "quantitative", "scale": {"domain": [1, 24], "nice": false}, "axis": {"values": [6, 12, 18, 24], "title": null}},
      "y": {"field": "v", "type": "quantitative", "stack": "zero", "scale": {"domain": [0, 123.7], "nice": false}, "axis": {"values": [0, 20, 40, 60, 80, 100, 120], "title": null}},
      "color": {"field": "c", "type": "nominal", "scale": {"domain": ["Coal","Coal-CCS","CCGT","CCGT-CCS","Biopower","Hydro","Nuclear","Offshore-wind","Onshore-wind","PV","Imports","PSH"], "range": ["#000000","#525f69","#9932cc","#ee82ee","#2e8b57","#00c49a","#a0522d","#1f82c1","#00bfff","#ffd700","#ff91a4","#c71585"]}, "legend": {"title": null, "values": ["Coal","CCGT","Biopower","Nuclear","Onshore-wind","Imports","Coal-CCS","CCGT-CCS","Hydro","Offshore-wind","PV","PSH"]}},
      "order": {"field": "o", "type": "quantitative", "sort": "ascending"}}},
    {"width": 120, "height": 313, "title": "2021-Autumn", "transform": [{"filter": "datum.p == '2021-Autumn'"}], "mark": {"type": "area", "interpolate": "linear"},
     "encoding": {"x": {"field": "h", "type": "quantitative", "scale": {"domain": [1, 24], "nice": false}, "axis": {"values": [6, 12, 18, 24], "title": null}},
      "y": {"field": "v", "type": "quantitative", "stack": "zero", "scale": {"domain": [0, 107.3], "nice": false}, "axis": {"values": [0, 20, 40, 60, 80, 100], "title": null}},
      "color": {"field": "c", "type": "nominal", "scale": {"domain": ["Coal","Coal-CCS","CCGT","CCGT-CCS","Biopower","Hydro","Nuclear","Offshore-wind","Onshore-wind","PV","Imports","PSH"], "range": ["#000000","#525f69","#9932cc","#ee82ee","#2e8b57","#00c49a","#a0522d","#1f82c1","#00bfff","#ffd700","#ff91a4","#c71585"]}, "legend": {"title": null, "values": ["Coal","CCGT","Biopower","Nuclear","Onshore-wind","Imports","Coal-CCS","CCGT-CCS","Hydro","Offshore-wind","PV","PSH"]}},
      "order": {"field": "o", "type": "quantitative", "sort": "ascending"}}},
    {"width": 120, "height": 313, "title": "2021-Winter", "transform": [{"filter": "datum.p == '2021-Winter'"}], "mark": {"type": "area", "interpolate": "linear"},
     "encoding": {"x": {"field": "h", "type": "quantitative", "scale": {"domain": [1, 24], "nice": false}, "axis": {"values": [6, 12, 18, 24], "title": null}},
      "y": {"field": "v", "type": "quantitative", "stack": "zero", "scale": {"domain": [0, 102.4], "nice": false}, "axis": {"values": [0, 20, 40, 60, 80, 100], "title": null}},
      "color": {"field": "c", "type": "nominal", "scale": {"domain": ["Coal","Coal-CCS","CCGT","CCGT-CCS","Biopower","Hydro","Nuclear","Offshore-wind","Onshore-wind","PV","Imports","PSH"], "range": ["#000000","#525f69","#9932cc","#ee82ee","#2e8b57","#00c49a","#a0522d","#1f82c1","#00bfff","#ffd700","#ff91a4","#c71585"]}, "legend": {"title": null, "values": ["Coal","CCGT","Biopower","Nuclear","Onshore-wind","Imports","Coal-CCS","CCGT-CCS","Hydro","Offshore-wind","PV","PSH"]}},
      "order": {"field": "o", "type": "quantitative", "sort": "ascending"}}},
    {"width": 120, "height": 313, "title": "2030-Spring", "transform": [{"filter": "datum.p == '2030-Spring'"}], "mark": {"type": "area", "interpolate": "linear"},
     "encoding": {"x": {"field": "h", "type": "quantitative", "scale": {"domain": [1, 24], "nice": false}, "axis": {"values": [6, 12, 18, 24], "title": null}},
      "y": {"field": "v", "type": "quantitative", "stack": "zero", "scale": {"domain": [0, 132.9], "nice": false}, "axis": {"values": [0, 20, 40, 60, 80, 100, 120], "title": null}},
      "color": {"field": "c", "type": "nominal", "scale": {"domain": ["Coal","Coal-CCS","CCGT","CCGT-CCS","Biopower","Hydro","Nuclear","Offshore-wind","Onshore-wind","PV","Imports","PSH"], "range": ["#000000","#525f69","#9932cc","#ee82ee","#2e8b57","#00c49a","#a0522d","#1f82c1","#00bfff","#ffd700","#ff91a4","#c71585"]}, "legend": {"title": null, "values": ["Coal","CCGT","Biopower","Nuclear","Onshore-wind","Imports","Coal-CCS","CCGT-CCS","Hydro","Offshore-wind","PV","PSH"]}},
      "order": {"field": "o", "type": "quantitative", "sort": "ascending"}}},
    {"width": 120, "height": 313, "title": "2030-Summer", "transform": [{"filter": "datum.p == '2030-Summer'"}], "mark": {"type": "area", "interpolate": "linear"},
     "encoding": {"x": {"field": "h", "type": "quantitative", "scale": {"domain": [1, 24], "nice": false}, "axis": {"values": [6, 12, 18, 24], "title": null}},
      "y": {"field": "v", "type": "quantitative", "stack": "zero", "scale": {"domain": [0, 164], "nice": false}, "axis": {"values": [0, 20, 40, 60, 80, 100, 120, 140, 160], "title": null}},
      "color": {"field": "c", "type": "nominal", "scale": {"domain": ["Coal","Coal-CCS","CCGT","CCGT-CCS","Biopower","Hydro","Nuclear","Offshore-wind","Onshore-wind","PV","Imports","PSH"], "range": ["#000000","#525f69","#9932cc","#ee82ee","#2e8b57","#00c49a","#a0522d","#1f82c1","#00bfff","#ffd700","#ff91a4","#c71585"]}, "legend": {"title": null, "values": ["Coal","CCGT","Biopower","Nuclear","Onshore-wind","Imports","Coal-CCS","CCGT-CCS","Hydro","Offshore-wind","PV","PSH"]}},
      "order": {"field": "o", "type": "quantitative", "sort": "ascending"}}},
    {"width": 120, "height": 313, "title": {"text": "2030-Autumn", "dy": 1}, "transform": [{"filter": "datum.p == '2030-Autumn'"}], "mark": {"type": "area", "interpolate": "linear"},
     "encoding": {"x": {"field": "h", "type": "quantitative", "scale": {"domain": [1, 24], "nice": false}, "axis": {"values": [6, 12, 18, 24], "title": null}},
      "y": {"field": "v", "type": "quantitative", "stack": "zero", "scale": {"domain": [0, 142.3], "nice": false}, "axis": {"values": [0, 20, 40, 60, 80, 100, 120, 140], "title": null}},
      "color": {"field": "c", "type": "nominal", "scale": {"domain": ["Coal","Coal-CCS","CCGT","CCGT-CCS","Biopower","Hydro","Nuclear","Offshore-wind","Onshore-wind","PV","Imports","PSH"], "range": ["#000000","#525f69","#9932cc","#ee82ee","#2e8b57","#00c49a","#a0522d","#1f82c1","#00bfff","#ffd700","#ff91a4","#c71585"]}, "legend": {"title": null, "values": ["Coal","CCGT","Biopower","Nuclear","Onshore-wind","Imports","Coal-CCS","CCGT-CCS","Hydro","Offshore-wind","PV","PSH"]}},
      "order": {"field": "o", "type": "quantitative", "sort": "ascending"}}},
    {"width": 120, "height": 313, "title": "2030-Winter", "transform": [{"filter": "datum.p == '2030-Winter'"}], "mark": {"type": "area", "interpolate": "linear"},
     "encoding": {"x": {"field": "h", "type": "quantitative", "scale": {"domain": [1, 24], "nice": false}, "axis": {"values": [6, 12, 18, 24], "title": null}},
      "y": {"field": "v", "type": "quantitative", "stack": "zero", "scale": {"domain": [0, 129.2], "nice": false}, "axis": {"values": [0, 20, 40, 60, 80, 100, 120], "title": null}},
      "color": {"field": "c", "type": "nominal", "scale": {"domain": ["Coal","Coal-CCS","CCGT","CCGT-CCS","Biopower","Hydro","Nuclear","Offshore-wind","Onshore-wind","PV","Imports","PSH"], "range": ["#000000","#525f69","#9932cc","#ee82ee","#2e8b57","#00c49a","#a0522d","#1f82c1","#00bfff","#ffd700","#ff91a4","#c71585"]}, "legend": {"title": null, "values": ["Coal","CCGT","Biopower","Nuclear","Onshore-wind","Imports","Coal-CCS","CCGT-CCS","Hydro","Offshore-wind","PV","PSH"]}},
      "order": {"field": "o", "type": "quantitative", "sort": "ascending"}}},
    {"width": 120, "height": 313, "title": "2040-Spring", "transform": [{"filter": "datum.p == '2040-Spring'"}], "mark": {"type": "area", "interpolate": "linear"},
     "encoding": {"x": {"field": "h", "type": "quantitative", "scale": {"domain": [1, 24], "nice": false}, "axis": {"values": [6, 12, 18, 24], "title": null}},
      "y": {"field": "v", "type": "quantitative", "stack": "zero", "scale": {"domain": [0, 168], "nice": false}, "axis": {"values": [0, 20, 40, 60, 80, 100, 120, 140, 160], "title": "Power generation (GW)"}},
      "color": {"field": "c", "type": "nominal", "scale": {"domain": ["Coal","Coal-CCS","CCGT","CCGT-CCS","Biopower","Hydro","Nuclear","Offshore-wind","Onshore-wind","PV","Imports","PSH"], "range": ["#000000","#525f69","#9932cc","#ee82ee","#2e8b57","#00c49a","#a0522d","#1f82c1","#00bfff","#ffd700","#ff91a4","#c71585"]}, "legend": {"title": null, "values": ["Coal","CCGT","Biopower","Nuclear","Onshore-wind","Imports","Coal-CCS","CCGT-CCS","Hydro","Offshore-wind","PV","PSH"]}},
      "order": {"field": "o", "type": "quantitative", "sort": "ascending"}}},
    {"width": 120, "height": 313, "title": "2040-Summer", "transform": [{"filter": "datum.p == '2040-Summer'"}], "mark": {"type": "area", "interpolate": "linear"},
     "encoding": {"x": {"field": "h", "type": "quantitative", "scale": {"domain": [1, 24], "nice": false}, "axis": {"values": [6, 12, 18, 24], "title": null}},
      "y": {"field": "v", "type": "quantitative", "stack": "zero", "scale": {"domain": [0, 207], "nice": false}, "axis": {"values": [0, 25, 50, 75, 100, 125, 150, 175, 200], "title": null}},
      "color": {"field": "c", "type": "nominal", "scale": {"domain": ["Coal","Coal-CCS","CCGT","CCGT-CCS","Biopower","Hydro","Nuclear","Offshore-wind","Onshore-wind","PV","Imports","PSH"], "range": ["#000000","#525f69","#9932cc","#ee82ee","#2e8b57","#00c49a","#a0522d","#1f82c1","#00bfff","#ffd700","#ff91a4","#c71585"]}, "legend": {"title": null, "values": ["Coal","CCGT","Biopower","Nuclear","Onshore-wind","Imports","Coal-CCS","CCGT-CCS","Hydro","Offshore-wind","PV","PSH"]}},
      "order": {"field": "o", "type": "quantitative", "sort": "ascending"}}},
    {"width": 120, "height": 313, "title": "2040-Autumn", "transform": [{"filter": "datum.p == '2040-Autumn'"}], "mark": {"type": "area", "interpolate": "linear"},
     "encoding": {"x": {"field": "h", "type": "quantitative", "scale": {"domain": [1, 24], "nice": false}, "axis": {"values": [6, 12, 18, 24], "title": null}},
      "y": {"field": "v", "type": "quantitative", "stack": "zero", "scale": {"domain": [0, 179.8], "nice": false}, "axis": {"values": [0, 20, 40, 60, 80, 100, 120, 140, 160], "title": null}},
      "color": {"field": "c", "type": "nominal", "scale": {"domain": ["Coal","Coal-CCS","CCGT","CCGT-CCS","Biopower","Hydro","Nuclear","Offshore-wind","Onshore-wind","PV","Imports","PSH"], "range": ["#000000","#525f69","#9932cc","#ee82ee","#2e8b57","#00c49a","#a0522d","#1f82c1","#00bfff","#ffd700","#ff91a4","#c71585"]}, "legend": {"title": null, "values": ["Coal","CCGT","Biopower","Nuclear","Onshore-wind","Imports","Coal-CCS","CCGT-CCS","Hydro","Offshore-wind","PV","PSH"]}},
      "order": {"field": "o", "type": "quantitative", "sort": "ascending"}}},
    {"width": 120, "height": 313, "title": "2040-Winter", "transform": [{"filter": "datum.p == '2040-Winter'"}], "mark": {"type": "area", "interpolate": "linear"},
     "encoding": {"x": {"field": "h", "type": "quantitative", "scale": {"domain": [1, 24], "nice": false}, "axis": {"values": [6, 12, 18, 24], "title": null}},
      "y": {"field": "v", "type": "quantitative", "stack": "zero", "scale": {"domain": [0, 162], "nice": false}, "axis": {"values": [0, 20, 40, 60, 80, 100, 120, 140, 160], "title": null}},
      "color": {"field": "c", "type": "nominal", "scale": {"domain": ["Coal","Coal-CCS","CCGT","CCGT-CCS","Biopower","Hydro","Nuclear","Offshore-wind","Onshore-wind","PV","Imports","PSH"], "range": ["#000000","#525f69","#9932cc","#ee82ee","#2e8b57","#00c49a","#a0522d","#1f82c1","#00bfff","#ffd700","#ff91a4","#c71585"]}, "legend": {"title": null, "values": ["Coal","CCGT","Biopower","Nuclear","Onshore-wind","Imports","Coal-CCS","CCGT-CCS","Hydro","Offshore-wind","PV","PSH"]}},
      "order": {"field": "o", "type": "quantitative", "sort": "ascending"}}},
    {"width": 120, "height": 313, "title": {"text": "2050-Spring", "dy": 4}, "transform": [{"filter": "datum.p == '2050-Spring'"}], "mark": {"type": "area", "interpolate": "linear"},
     "encoding": {"x": {"field": "h", "type": "quantitative", "scale": {"domain": [1, 24], "nice": false}, "axis": {"values": [6, 12, 18, 24], "title": null}},
      "y": {"field": "v", "type": "quantitative", "stack": "zero", "scale": {"domain": [0, 201], "nice": false}, "axis": {"values": [0, 25, 50, 75, 100, 125, 150, 175, 200], "title": null}},
      "color": {"field": "c", "type": "nominal", "scale": {"domain": ["Coal","Coal-CCS","CCGT","CCGT-CCS","Biopower","Hydro","Nuclear","Offshore-wind","Onshore-wind","PV","Imports","PSH"], "range": ["#000000","#525f69","#9932cc","#ee82ee","#2e8b57","#00c49a","#a0522d","#1f82c1","#00bfff","#ffd700","#ff91a4","#c71585"]}, "legend": {"title": null, "values": ["Coal","CCGT","Biopower","Nuclear","Onshore-wind","Imports","Coal-CCS","CCGT-CCS","Hydro","Offshore-wind","PV","PSH"]}},
      "order": {"field": "o", "type": "quantitative", "sort": "ascending"}}},
    {"width": 120, "height": 313, "title": {"text": "2050-Summer", "dy": 3.5}, "transform": [{"filter": "datum.p == '2050-Summer'"}], "mark": {"type": "area", "interpolate": "linear"},
     "encoding": {"x": {"field": "h", "type": "quantitative", "scale": {"domain": [1, 24], "nice": false}, "axis": {"values": [6, 12, 18, 24], "title": null}},
      "y": {"field": "v", "type": "quantitative", "stack": "zero", "scale": {"domain": [0, 251.3], "nice": false}, "axis": {"values": [0, 50, 100, 150, 200, 250], "title": null}},
      "color": {"field": "c", "type": "nominal", "scale": {"domain": ["Coal","Coal-CCS","CCGT","CCGT-CCS","Biopower","Hydro","Nuclear","Offshore-wind","Onshore-wind","PV","Imports","PSH"], "range": ["#000000","#525f69","#9932cc","#ee82ee","#2e8b57","#00c49a","#a0522d","#1f82c1","#00bfff","#ffd700","#ff91a4","#c71585"]}, "legend": {"title": null, "values": ["Coal","CCGT","Biopower","Nuclear","Onshore-wind","Imports","Coal-CCS","CCGT-CCS","Hydro","Offshore-wind","PV","PSH"]}},
      "order": {"field": "o", "type": "quantitative", "sort": "ascending"}}},
    {"width": 120, "height": 313, "title": "2050-Autumn", "transform": [{"filter": "datum.p == '2050-Autumn'"}], "mark": {"type": "area", "interpolate": "linear"},
     "encoding": {"x": {"field": "h", "type": "quantitative", "scale": {"domain": [1, 24], "nice": false}, "axis": {"values": [6, 12, 18, 24], "title": null}},
      "y": {"field": "v", "type": "quantitative", "stack": "zero", "scale": {"domain": [0, 230], "nice": false}, "axis": {"values": [0, 50, 100, 150, 200], "title": null}},
      "color": {"field": "c", "type": "nominal", "scale": {"domain": ["Coal","Coal-CCS","CCGT","CCGT-CCS","Biopower","Hydro","Nuclear","Offshore-wind","Onshore-wind","PV","Imports","PSH"], "range": ["#000000","#525f69","#9932cc","#ee82ee","#2e8b57","#00c49a","#a0522d","#1f82c1","#00bfff","#ffd700","#ff91a4","#c71585"]}, "legend": {"title": null, "values": ["Coal","CCGT","Biopower","Nuclear","Onshore-wind","Imports","Coal-CCS","CCGT-CCS","Hydro","Offshore-wind","PV","PSH"]}},
      "order": {"field": "o", "type": "quantitative", "sort": "ascending"}}},
    {"width": 120, "height": 313, "title": "2050-Winter", "transform": [{"filter": "datum.p == '2050-Winter'"}], "mark": {"type": "area", "interpolate": "linear"},
     "encoding": {"x": {"field": "h", "type": "quantitative", "scale": {"domain": [1, 24], "nice": false}, "axis": {"values": [6, 12, 18, 24], "title": null}},
      "y": {"field": "v", "type": "quantitative", "stack": "zero", "scale": {"domain": [0, 194], "nice": false}, "axis": {"values": [0, 25, 50, 75, 100, 125, 150, 175], "title": null}},
      "color": {"field": "c", "type": "nominal", "scale": {"domain": ["Coal","Coal-CCS","CCGT","CCGT-CCS","Biopower","Hydro","Nuclear","Offshore-wind","Onshore-wind","PV","Imports","PSH"], "range": ["#000000","#525f69","#9932cc","#ee82ee","#2e8b57","#00c49a","#a0522d","#1f82c1","#00bfff","#ffd700","#ff91a4","#c71585"]}, "legend": {"title": null, "values": ["Coal","CCGT","Biopower","Nuclear","Onshore-wind","Imports","Coal-CCS","CCGT-CCS","Hydro","Offshore-wind","PV","PSH"]}},
      "order": {"field": "o", "type": "quantitative", "sort": "ascending"}}}
  ],
  "config": {
    "font": "DejaVu Sans",
    "view": {"stroke": "black", "strokeWidth": 2},
    "area": {"strokeWidth": 0},
    "title": {"font": "DejaVu Sans", "fontSize": 14, "fontWeight": "normal", "color": "black", "offset": 4, "frame": "group"},
    "axis": {"domain": false, "grid": false, "ticks": true, "tickSize": -4, "tickWidth": 1.5, "tickColor": "black", "labelFont": "DejaVu Sans", "labelFontSize": 13, "labelColor": "black", "labelPadding": 11, "labelFlush": false, "labelOverlap": false, "titleFont": "DejaVu Sans", "titleFontSize": 16, "titleFontWeight": "normal", "titleColor": "black", "titlePadding": 10},
    "legend": {"orient": "none", "legendX": 186, "legendY": -74, "direction": "horizontal", "columns": 6, "symbolType": "M-1,-0.357H1V0.357H-1Z", "symbolSize": 784, "symbolStrokeWidth": 0, "symbolOpacity": 1, "labelFont": "DejaVu Sans", "labelFontSize": 14, "labelColor": "black", "labelOffset": 12, "columnPadding": 30, "rowPadding": 1, "padding": 0}
  }
}
